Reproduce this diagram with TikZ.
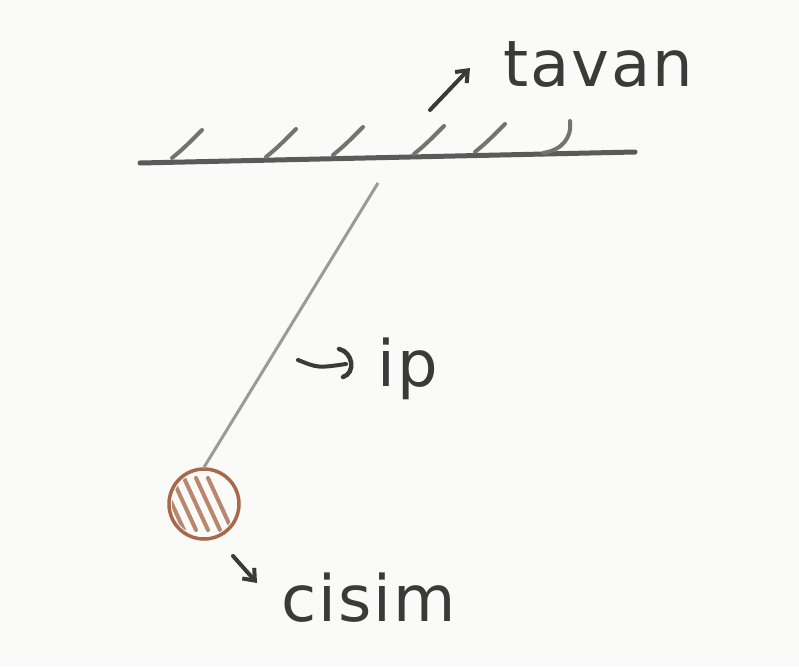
\documentclass[tikz,border=0pt]{standalone}
\usepackage{fontspec}
\setmainfont{DejaVu Sans}[LetterSpace=3]
\usetikzlibrary{arrows.meta,calc}
\definecolor{paper}{HTML}{FAFAF8}
\definecolor{pencil}{HTML}{5A5A5A}
\definecolor{ink}{HTML}{3A3A3A}
\definecolor{stringc}{HTML}{9A9A9A}
\definecolor{brownc}{HTML}{A8684A}
\tikzset{
  hand/.style={ink, font=\fontsize{64}{72}\selectfont},
  ceil/.style={pencil, line width=5pt, line cap=round},
  hatchmark/.style={pencil!85, line width=4pt, line cap=round},
  ptr/.style={ink, line width=4pt, line cap=round, -{Straight Barb[length=10pt,width=16pt,line width=4pt]}},
}
\begin{document}
\begin{tikzpicture}[x=1pt,y=-1pt]
\fill[paper] (0,0) rectangle (799,666);
\useasboundingbox (0,0) rectangle (799,666);
% ceiling
\coordinate (cL) at (140,163);
\coordinate (cR) at (635,152);
\draw[ceil] (cL) -- (cR);
\foreach \x/\y in {172/158, 266/157, 333/155, 414/154, 475/152} {
  \draw[hatchmark] (\x,\y) .. controls (\x+12,\y-10) .. (\x+30,\y-28);
}
\draw[hatchmark] (543,153) .. controls (562,150) and (572,138) .. (570,121);
% tavan
\node[hand, anchor=base west] (tavan) at (500,87) {tavan};
\coordinate (ta0) at (430,110);
\coordinate (ta1) at (470,68);
\draw[ptr] (ta0) -- (ta1);
% string and bob
\coordinate (s0) at (378,183);
\node[circle, draw=brownc, line width=3.5pt, minimum size=70pt, inner sep=0pt] (bob) at (204,504) {};
\begin{scope}
\clip (bob.center) circle (32pt);
\foreach \d in {-30,-18,-6,6,18} {
  \draw[brownc!80, line width=4pt, line cap=round] ($(bob.center)+(\d-14,-26)$) -- ($(bob.center)+(\d+10,26)$);
}
\end{scope}
\draw[stringc, line width=3pt] (s0) -- (bob.north);
% ip
\node[hand, anchor=base west] (ip) at (374,386) {ip};
\coordinate (ia0) at (298,360);
\coordinate (ia1) at (346,364);
\draw[ink, line width=4pt, line cap=round] (ia0) .. controls (318,368) .. (ia1);
\draw[ink, line width=4.5pt, line cap=round] (339,349) .. controls (353,352) and (356,373) .. (343,377);
% cisim
\node[hand, anchor=base west] (cisim) at (278,621) {cisim};
\coordinate (ca0) at (233,556);
\coordinate (ca1) at (257,583);
\draw[ptr] (ca0) -- (ca1);
\end{tikzpicture}
\end{document}
